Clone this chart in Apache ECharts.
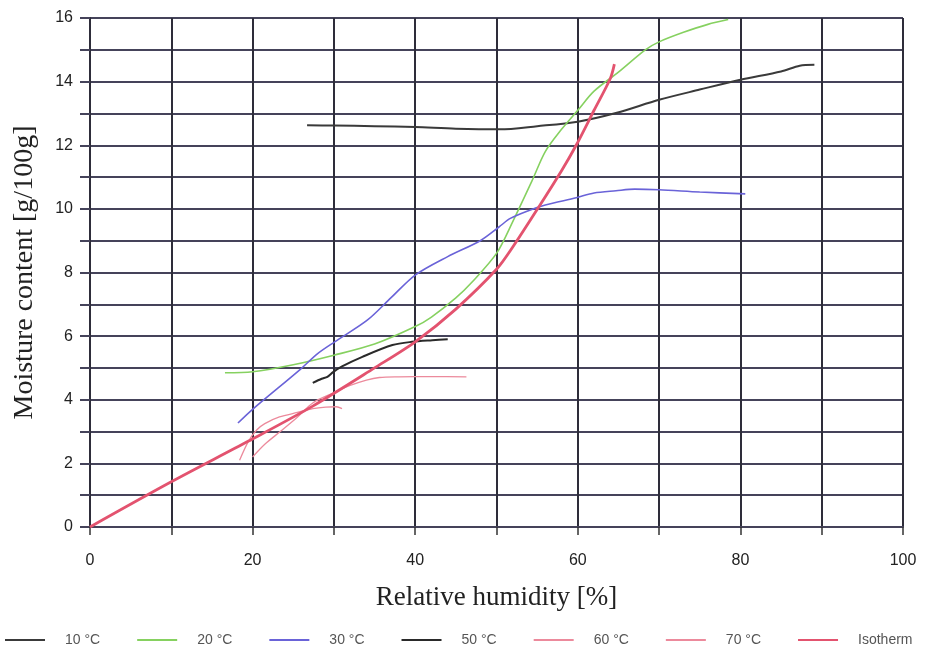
<!DOCTYPE html>
<html>
<head>
<meta charset="utf-8">
<script src="https://cdn.jsdelivr.net/npm/echarts@6/dist/echarts.min.js"></script>
<style>html,body{margin:0;padding:0;background:#fff;}#c{width:933px;height:651px;}</style>
</head>
<body>
<div id="c"></div>
<script>
// Relative humidity [%] and moisture content [g/100g]
const s10 = [[26.7,12.63],[30,12.62],[35,12.6],[40,12.57],[45,12.52],[50.4,12.5],[55,12.6],[60,12.74],[64.8,13.02],[70,13.43],[75,13.75],[80,14.06],[85,14.32],[87.3,14.5],[89.1,14.53]];
const s20 = [[16.6,4.85],[20,4.88],[25,5.1],[30,5.4],[35,5.75],[40,6.3],[42,6.6],[45,7.2],[47,7.7],[50,8.6],[52,9.6],[54.4,10.9],[56,11.8],[58,12.5],[60,13.1],[62,13.7],[65,14.3],[68.3,15.0],[70,15.25],[73,15.55],[76,15.8],[78.5,15.95]];
const s30 = [[18.2,3.27],[20,3.7],[25.8,4.94],[28,5.45],[30.1,5.82],[34.1,6.5],[37,7.2],[40,7.92],[44,8.5],[48,9.0],[50.3,9.43],[51.7,9.7],[54,9.95],[56,10.12],[59.8,10.35],[62,10.5],[64.7,10.57],[67,10.62],[70,10.6],[75,10.53],[80.6,10.47]];
const s50 = [[27.4,4.53],[28.5,4.66],[29.2,4.72],[29.9,4.87],[31,5.05],[33.5,5.35],[37.2,5.72],[39.6,5.82],[42.1,5.87],[44,5.9]];
const s60 = [[20,2.2],[21.5,2.6],[23.4,3.0],[25.5,3.45],[27.4,3.9],[29.8,4.2],[32,4.45],[34,4.62],[35.6,4.7],[38,4.72],[42,4.73],[46.3,4.72]];
const s70 = [[18.4,2.1],[19.5,2.7],[20.5,3.05],[21.5,3.25],[23.3,3.46],[25.5,3.6],[27.4,3.72],[29,3.77],[30.3,3.78],[31,3.72]];
const sIso = [[0,0],[10,1.42],[19.5,2.7],[27.4,3.8],[35,5.0],[40,5.82],[45,6.85],[50,8.1],[52,8.8],[55.2,10.06],[58,11.2],[59.8,12.0],[62,13.1],[64,14.1],[64.5,14.55]];

const names = ['10 °C','20 °C','30 °C','50 °C','60 °C','70 °C','Isotherm'];
const colors = ['#3a3a3a','#86d160','#6a63d8','#2a2a2a','#ec8a9c','#ec8a9c','#e3536f'];
const widths = [2,1.6,1.6,2,1.3,1.3,2.8];
const datas = [s10,s20,s30,s50,s60,s70,sIso];

const chart = echarts.init(document.getElementById('c'));
const gridColor = '#45435a';
chart.setOption({
  backgroundColor: '#fff',
  animation: false,
  grid: {left: 90, right: 30, top: 18, bottom: 124, containLabel: false, outerBoundsMode: 'none'},
  legend: {
    top: 633, left: 5, padding: 0,
    itemWidth: 40, itemHeight: 2, itemGap: 37,
    icon: 'rect',
    textStyle: {fontFamily: 'Liberation Sans, Arial', fontSize: 14, color: '#555', padding: [0,0,0,15]},
    data: names.map((n,i)=>({name:n, itemStyle:{color:colors[i]}}))
  },
  xAxis: {
    type: 'value', min: 0, max: 100, interval: 10,
    name: 'Relative humidity [%]', nameLocation: 'middle', nameGap: 57,
    nameTextStyle: {fontFamily: 'Liberation Serif, Times New Roman', fontSize: 27, color: '#222'},
    axisLine: {show: true, lineStyle: {color: gridColor, width: 2}},
    axisTick: {show: true, length: 8, lineStyle: {color: '#333', width: 1.5}},
    axisLabel: {margin: 26, fontFamily: 'Liberation Sans, Arial', fontSize: 16, color: '#222',
      formatter: v => (v % 20 === 0 ? String(v) : '')},
    splitLine: {show: true, lineStyle: {color: '#2e2d3a', width: 2}}
  },
  yAxis: {
    type: 'value', min: 0, max: 16, interval: 1,
    name: 'Moisture content [g/100g]', nameLocation: 'middle', nameGap: 51,
    nameTextStyle: {fontFamily: 'Liberation Serif, Times New Roman', fontSize: 28, color: '#222'},
    axisLine: {show: true, lineStyle: {color: '#2e2d3a', width: 2}},
    axisTick: {show: true, length: 10, lineStyle: {color: gridColor, width: 2}},
    axisLabel: {margin: 17, fontFamily: 'Liberation Sans, Arial', fontSize: 16, color: '#222',
      formatter: v => (v % 2 === 0 ? String(v) : '')},
    splitLine: {show: true, lineStyle: {color: gridColor, width: 2.2}}
  },
  series: names.map((n,i)=>({
    name: n, type: 'line', data: datas[i], smooth: 0.3, showSymbol: false, symbol: 'none',
    lineStyle: {color: colors[i], width: widths[i]}, itemStyle: {color: colors[i]},
    z: i === 6 ? 5 : 3
  }))
});
</script>
</body>
</html>
